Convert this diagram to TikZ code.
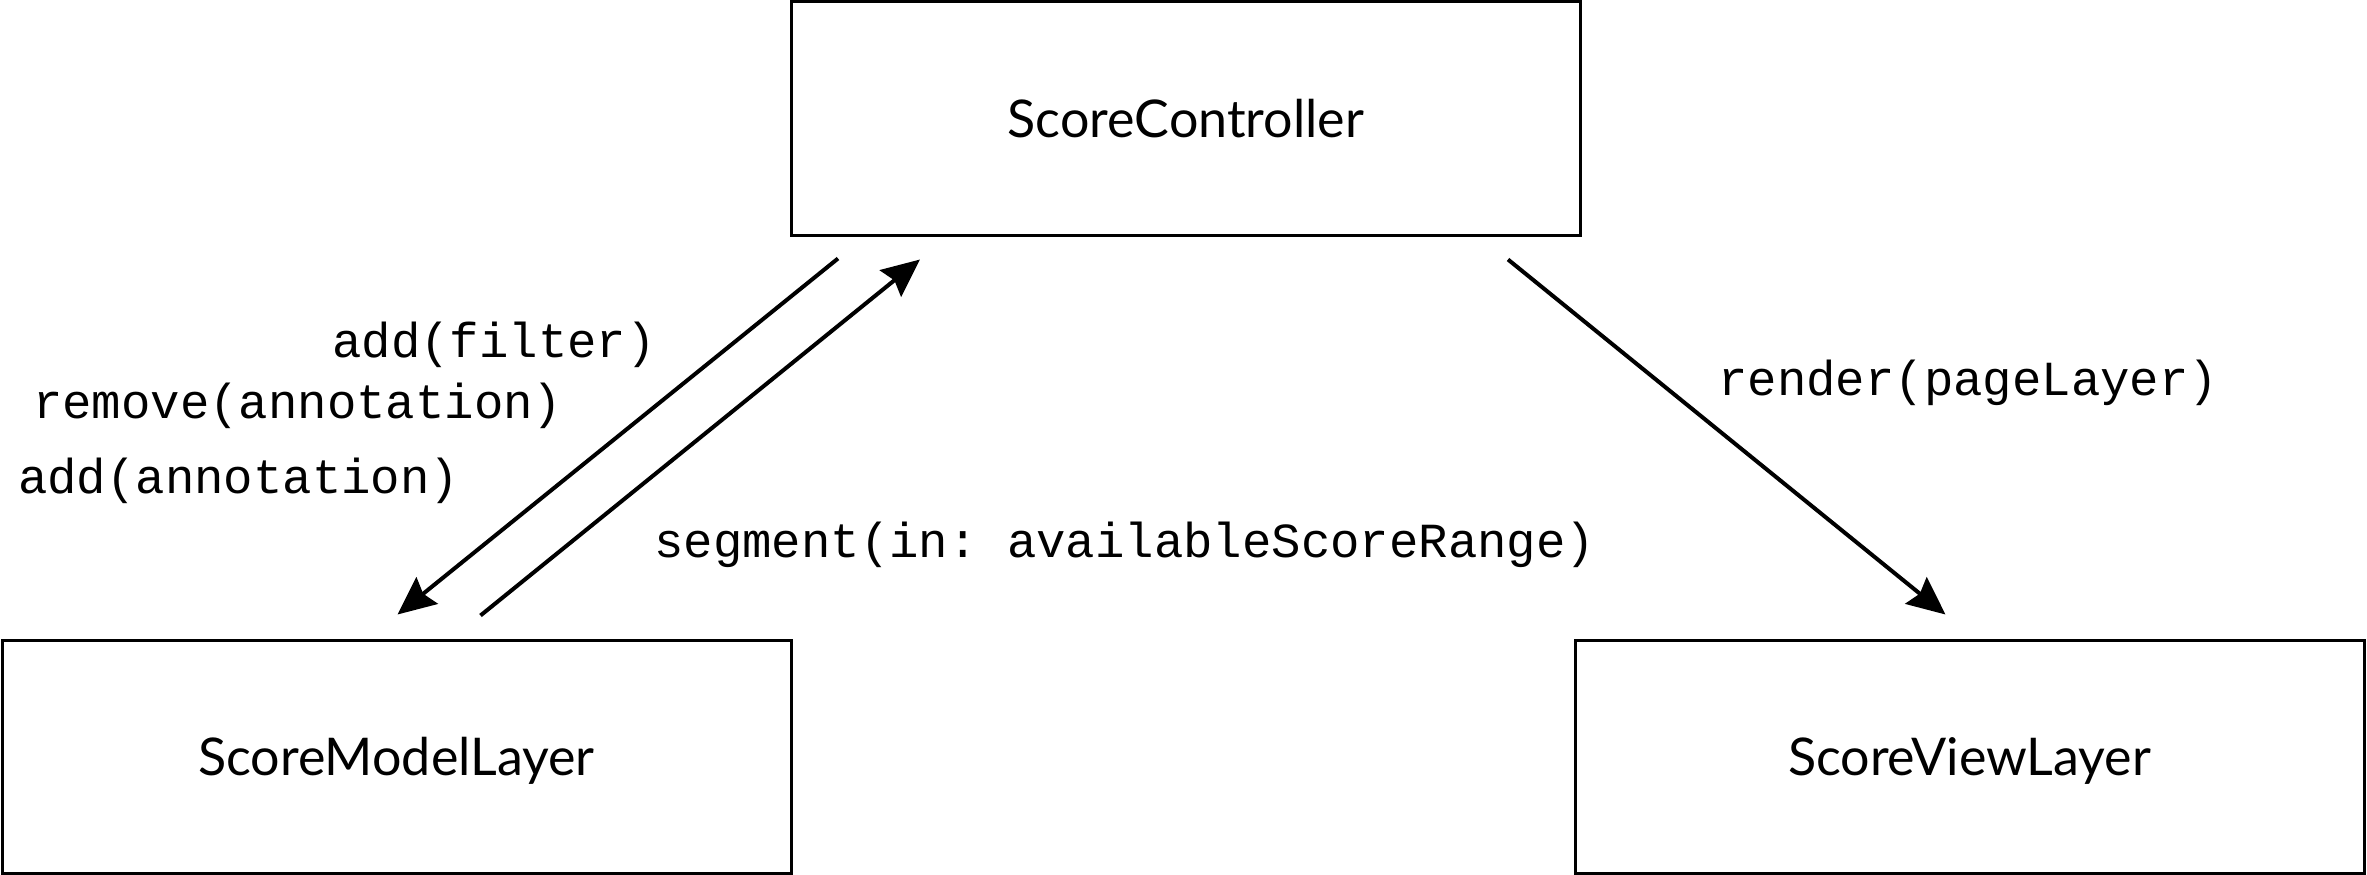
\documentclass[tikz,border=0pt]{standalone}
\usepackage{fontspec}
\setmonofont{Liberation Mono}
\newfontfamily\boxfont{Lato}
\usepackage{tikz}
\usetikzlibrary{arrows.meta,calc}

\begin{document}
\begin{tikzpicture}[x=1pt,y=-1pt,>={Stealth[length=38pt,width=34pt,inset=5pt]},
  layer/.style={draw,line width=3pt,minimum width=789pt,minimum height=233pt,inner sep=0pt,
    text depth=0pt,font=\boxfont\fontsize{52}{60}\selectfont},
  call/.style={anchor=west,inner sep=0pt,font=\ttfamily\fontsize{49}{58}\selectfont},
  msg/.style={->,line width=4pt}]
\useasboundingbox (0,0) rectangle (2367,875);
\node[layer] (ctl) at (1186,118.5) {ScoreController};
\node[layer] (mdl) at (396.5,756.5) {ScoreModelLayer};
\node[layer] (view) at (1969.5,756.5) {ScoreViewLayer};
% arrow ends, kept off the boxes
\coordinate (d1) at ($(ctl.south west)+(48,22)$);
\coordinate (d2) at ($(mdl.north west)+(397,-24)$);
\coordinate (u1) at ($(mdl.north west)+(480,-23)$);
\coordinate (u2) at ($(ctl.south west)+(130,23)$);
\coordinate (r1) at ($(ctl.south east)+(-74,23)$);
\coordinate (r2) at ($(view.north west)+(372,-24)$);
\draw[msg] (d1) -- (d2);
\draw[msg] (u1) -- (u2);
\draw[msg] (r1) -- (r2);
\node[call] (addf) at (332,345) {add(filter)};
\node[call] (rema) at (33,406) {remove(annotation)};
\node[call] (adda) at (18,481) {add(annotation)};
\node[call] (seg) at (654,545) {segment(in: availableScoreRange)};
\node[call] (rnd) at (1718,383) {render(pageLayer)};
\end{tikzpicture}
\end{document}
